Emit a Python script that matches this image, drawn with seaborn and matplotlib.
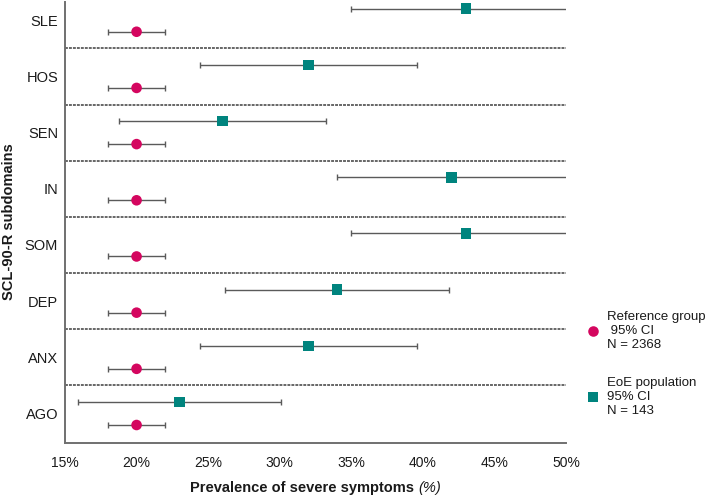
import numpy as np
import pandas as pd
import matplotlib
matplotlib.use("Agg")
import matplotlib.pyplot as plt
from matplotlib.lines import Line2D
import seaborn as sns

# ---------------- data ----------------
subdomains = ["AGO", "ANX", "DEP", "SOM", "IN", "SEN", "HOS", "SLE"]  # bottom -> top
ref_est = [20, 20, 20, 20, 20, 20, 20, 20]
ref_lo = [18, 18, 18, 18, 18, 18, 18, 18]
ref_hi = [22, 22, 22, 22, 22, 22, 22, 22]
eoe_est = [23, 32, 34, 43, 42, 26, 32, 43]
eoe_lo = [15.9, 24.4, 26.2, 35, 34, 18.8, 24.4, 35]
eoe_hi = [30.1, 39.6, 41.8, 51, 50.2, 33.2, 39.6, 51]
xticks = [15, 20, 25, 30, 35, 40, 45, 50]
ref_label = "Reference group\n 95% CI\nN = 2368"
eoe_label = "EoE population\n95% CI\nN = 143"

MAG = "#D4065F"
TEAL = "#00847E"
GREY = "#5A5A5A"
TXT = "#1A1A1A"

sns.set_style("white")
plt.rcParams["font.family"] = ["Liberation Sans", "DejaVu Sans"]
plt.rcParams["text.color"] = TXT

n = len(subdomains)
pos = np.arange(n)
off = 0.205
df = pd.DataFrame({
    "sub": subdomains * 2,
    "y": np.concatenate([pos - off, pos + off]),
    "est": ref_est + eoe_est,
    "lo": ref_lo + eoe_lo,
    "hi": ref_hi + eoe_hi,
    "group": ["ref"] * n + ["eoe"] * n,
})

fig = plt.figure(figsize=(7.09, 4.98), dpi=100)
ax = fig.add_axes([65 / 709, 1 - 442.7 / 498, (566 - 65) / 709, (442.7 - 1.7) / 498])

# separators
for k in range(n - 1):
    ax.axhline(k + 0.5, color=GREY, lw=1.3, ls=(0, (1.6, 0.6)), zorder=1)

# confidence intervals
for g in ["ref", "eoe"]:
    d = df[df.group == g]
    ax.errorbar(d["est"], d["y"], xerr=[d["est"] - d["lo"], d["hi"] - d["est"]],
                fmt="none", ecolor=GREY, elinewidth=1.0, capsize=2.2, capthick=1.0,
                zorder=2)

sns.scatterplot(data=df, x="est", y="y", hue="group", style="group",
                palette={"ref": MAG, "eoe": TEAL},
                markers={"ref": "o", "eoe": "s"}, s=58, linewidth=0,
                legend=False, ax=ax, zorder=3)

ax.set_xlim(15, 50)
ax.set_ylim(-0.52, n - 1 + 0.33)
ax.set_xticks(xticks)
ax.set_xticklabels([f"{v}%" for v in xticks], fontsize=10)
ax.set_yticks(pos)
ax.set_yticklabels(subdomains, fontsize=10.5)
ax.tick_params(axis="y", length=0, pad=5, labelcolor=TXT)
ax.tick_params(axis="x", length=4, width=1.2, color="#707070", pad=5.5,
               direction="out", labelcolor=TXT)
ax.set_xlabel("")
ax.set_ylabel("")
for s in ["top", "right"]:
    ax.spines[s].set_visible(False)
for s in ["left", "bottom"]:
    ax.spines[s].set_color("#707070")
    ax.spines[s].set_linewidth(1.4)

# y label
fig.text(9 / 709, 1 - 222 / 498, "SCL-90-R subdomains", rotation=90, ha="center",
         va="center", fontsize=10.5, fontweight="bold", color=TXT)

# x label: bold + italic part, centred under axes
fig.canvas.draw()
r = fig.canvas.get_renderer()
yl = 1 - 488 / 498
t1 = fig.text(0, yl, "Prevalence of severe symptoms ", fontsize=10.5, fontweight="bold",
              ha="left", va="center", color=TXT)
t2 = fig.text(0, yl, "(%)", fontsize=10.5, style="italic", ha="left", va="center",
              color=TXT)
w1 = t1.get_window_extent(r).width
w2 = t2.get_window_extent(r).width
cx = 315.5
x0 = cx - (w1 + w2) / 2
t1.set_x(x0 / 709)
t2.set_x((x0 + w1) / 709)

# legend
handles = [Line2D([], [], marker="o", color=MAG, ls="none", markersize=7.6, markeredgewidth=0),
           Line2D([], [], marker="s", color=TEAL, ls="none", markersize=7.0, markeredgewidth=0)]
leg = fig.legend(handles, [ref_label, eoe_label], loc="upper left",
                 bbox_to_anchor=(586 / 709, 1 - 311 / 498), frameon=False,
                 fontsize=9.5, handlelength=1.0, handletextpad=0.6, borderpad=0,
                 borderaxespad=0, labelspacing=2.0)
for t in leg.get_texts():
    t.set_color(TXT)

fig.savefig("out.png", dpi=100)
